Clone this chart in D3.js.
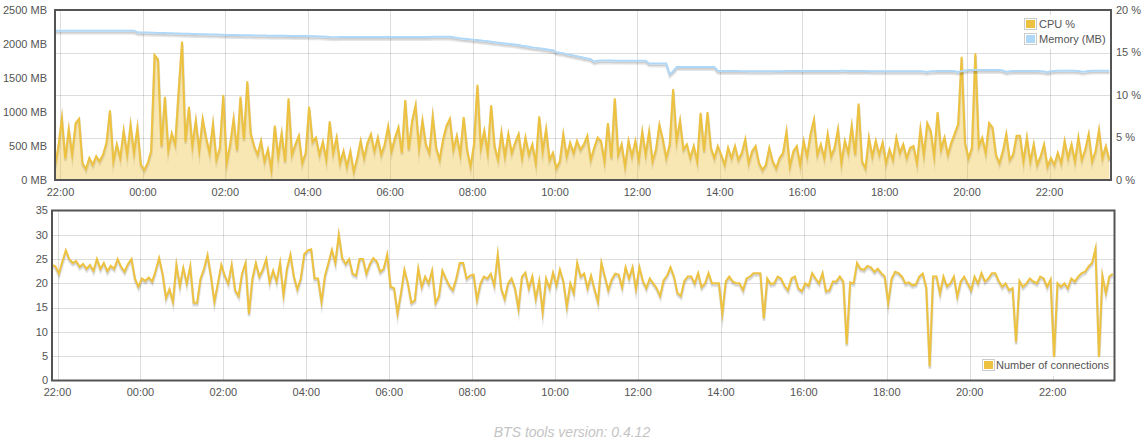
<!DOCTYPE html>
<html><head><meta charset="utf-8">
<script src="https://cdn.jsdelivr.net/npm/d3@7/dist/d3.min.js"></script>
<style>
body{margin:0;background:#fff;}
svg{display:block;font-family:"Liberation Sans",Arial,Helvetica,sans-serif;}
</style>
</head><body>
<svg id="c" width="1146" height="443"></svg>
<script>
// ---- data: samples every 5 minutes from 21:52 (one row = one hour) ----
const START = "2014-01-01T21:52:00Z";
const STEP_MIN = 5;
const SPAN_MIN = 1537.5;

const cpuPct = [
1.6,4.0,7.3,2.5,6.0,3.0,6.7,7.2,2.0,1.3,2.6,1.8,
2.8,2.2,3.0,4.4,8.2,2.2,4.2,2.6,5.8,3.0,6.5,3.2,
6.2,1.8,1.2,2.0,3.4,14.7,14.2,4.0,9.8,3.5,5.5,4.2,
10.5,16.3,4.5,8.6,4.0,7.0,3.5,7.2,5.0,3.2,6.6,2.4,
3.8,10.0,2.0,4.2,7.2,3.5,9.8,4.8,11.6,5.5,4.0,3.0,
4.6,2.2,3.6,1.2,6.4,2.8,5.5,2.2,9.6,3.0,4.2,5.2,
2.0,3.2,8.6,4.5,5.0,3.0,4.5,2.4,6.9,3.2,5.0,2.0,
3.4,1.6,3.4,1.0,2.6,4.6,2.6,4.4,5.4,3.4,5.0,3.0,
4.2,6.3,3.4,5.0,6.2,3.2,9.4,3.6,7.0,8.8,3.8,7.0,
4.2,3.2,7.5,3.8,2.4,4.8,6.4,7.2,3.6,5.2,3.0,7.4,
3.6,1.6,4.2,11.2,3.8,5.8,3.2,8.8,4.0,2.4,5.6,2.8,
5.4,3.2,4.4,5.4,2.6,5.0,3.0,4.2,2.0,7.5,3.4,6.0,
2.4,3.2,1.4,2.2,5.4,2.8,4.4,3.2,4.6,3.6,4.2,5.2,
2.4,3.8,5.0,4.6,2.2,6.7,2.6,9.6,3.0,4.2,1.6,4.6,
2.8,4.6,2.4,5.7,3.0,5.7,2.2,3.6,6.5,4.8,2.6,4.2,
10.7,4.6,7.0,3.6,4.2,2.6,4.0,2.2,7.9,3.4,8.0,3.8,
2.6,4.0,3.0,1.8,3.8,2.6,4.0,2.4,3.2,4.8,2.0,3.4,
4.0,2.0,1.2,1.8,3.8,2.2,1.4,2.6,3.2,5.7,1.6,3.4,
4.0,1.8,4.6,2.8,5.4,7.1,3.0,4.2,2.6,5.4,2.8,3.8,
6.0,2.0,4.6,3.2,6.4,3.0,9.0,2.2,1.4,5.0,2.8,4.6,
3.0,4.4,2.0,3.6,2.4,5.0,3.2,4.2,2.6,3.8,4.0,2.0,
6.0,3.0,6.7,5.8,2.8,8.0,3.6,5.0,3.0,4.4,5.5,6.6,
14.5,4.4,2.6,3.8,14.9,4.0,5.0,3.2,6.7,6.2,3.0,2.0,
3.4,5.4,2.4,3.0,5.2,5.2,2.2,5.0,2.2,4.2,1.8,2.8,
4.2,1.6,2.6,1.8,3.2,2.0,4.6,2.6,4.2,2.2,5.0,2.4,
3.6,5.4,2.2,3.4,5.9,2.6,4.0,2.4
];

const memMB = [
2196,2196,2196,2196,2196,2196,2196,2196,2196,2196,2196,2196,
2196,2196,2196,2196,2196,2196,2196,2196,2196,2196,2196,2196,
2172,2170,2170,2168,2166,2165,2163,2162,2160,2158,2157,2156,
2154,2152,2150,2149,2148,2146,2145,2143,2142,2140,2139,2138,
2136,2135,2134,2133,2132,2131,2130,2129,2128,2127,2126,2125,
2124,2124,2123,2122,2122,2121,2120,2120,2119,2118,2118,2117,
2116,2116,2115,2114,2114,2112,2110,2106,2102,2100,2100,2104,
2104,2104,2104,2104,2104,2104,2104,2104,2104,2104,2104,2104,
2104,2104,2104,2104,2104,2104,2104,2104,2104,2104,2104,2104,
2104,2104,2105,2105,2105,2106,2106,2106,2098,2090,2083,2078,
2074,2068,2062,2058,2052,2046,2040,2033,2026,2020,2014,2008,
2003,1998,1992,1986,1975,1966,1958,1950,1943,1937,1930,1924,
1915,1908,1880,1872,1866,1850,1842,1830,1820,1810,1798,1788,
1778,1740,1752,1756,1756,1756,1756,1755,1755,1755,1754,1754,
1754,1754,1753,1753,1752,1712,1712,1712,1712,1712,1712,1555,
1598,1660,1660,1660,1660,1660,1660,1660,1660,1660,1660,1660,
1660,1606,1604,1603,1603,1602,1602,1602,1601,1601,1600,1600,
1600,1599,1598,1598,1600,1600,1601,1601,1601,1602,1602,1602,
1602,1603,1603,1603,1603,1603,1604,1604,1604,1604,1604,1604,
1604,1605,1605,1604,1604,1603,1603,1602,1602,1601,1600,1600,
1598,1598,1598,1598,1598,1598,1598,1598,1598,1598,1598,1598,
1598,1596,1588,1598,1600,1602,1603,1603,1604,1604,1600,1590,
1600,1610,1616,1618,1618,1618,1618,1618,1618,1618,1618,1616,
1610,1590,1600,1604,1604,1604,1604,1604,1604,1604,1604,1600,
1596,1585,1598,1604,1605,1605,1605,1605,1605,1605,1604,1592,
1596,1602,1608,1608,1608,1608,1608,1608
];

const connections = [
23.8,23.5,22.0,24.5,26.8,25.0,24.2,24.6,23.4,24.0,23.0,23.8,
22.6,25.0,23.0,24.2,22.5,23.6,23.0,25.0,23.4,22.4,24.0,25.0,
21.0,19.3,21.0,20.5,21.2,20.4,22.6,25.2,22.0,17.0,18.8,16.2,
23.8,19.5,23.2,20.0,23.5,16.0,16.0,21.0,23.0,25.8,21.5,16.2,
20.0,23.8,21.6,20.0,23.8,18.6,17.4,22.0,24.2,13.7,21.0,24.2,
21.4,22.8,25.0,20.2,22.6,20.4,24.2,17.6,23.0,25.9,21.4,18.8,
21.0,26.0,26.8,27.0,21.0,21.0,16.2,21.6,24.2,26.9,24.2,30.0,
25.2,24.0,25.0,22.0,21.6,25.0,25.0,22.0,24.0,25.2,24.5,22.4,
23.0,25.9,19.3,19.0,13.8,18.0,22.8,20.0,16.0,16.5,23.0,19.3,
21.4,20.0,22.6,16.0,17.4,22.6,21.0,19.5,18.6,21.0,24.2,24.2,
21.0,21.6,21.8,16.6,20.0,21.4,21.0,22.0,19.6,25.9,19.0,16.8,
20.0,21.0,19.0,14.8,21.4,22.2,19.0,21.4,16.8,20.5,14.1,21.0,
19.0,22.2,19.6,22.8,20.4,15.2,20.0,18.0,24.2,21.4,22.0,19.0,
21.6,18.8,16.2,24.2,21.4,18.6,20.8,22.0,21.8,19.2,23.3,21.0,
23.3,18.8,23.3,20.5,19.0,21.0,20.0,19.0,17.4,20.6,21.6,23.3,
21.4,18.0,17.4,20.5,21.4,21.4,20.0,22.1,19.2,20.0,22.1,20.0,
20.0,20.0,13.8,20.4,21.4,20.4,20.0,20.0,18.6,21.0,21.4,22.1,
22.1,22.1,12.8,21.0,19.9,20.0,21.4,21.0,19.5,18.6,21.0,21.4,
19.0,18.4,20.0,19.5,22.1,21.0,20.0,22.1,18.4,18.6,20.4,20.4,
21.4,20.4,7.5,20.2,20.0,24.2,23.0,22.8,23.6,23.3,22.4,23.0,
22.1,21.4,16.0,21.0,22.4,22.1,21.4,20.0,20.2,19.6,19.8,21.4,
22.0,19.3,2.9,21.4,21.4,17.9,21.4,19.4,20.0,21.4,17.3,20.4,
21.4,20.0,18.6,21.4,20.0,22.1,20.4,21.0,22.1,22.1,20.5,19.3,
20.0,18.6,19.0,7.9,20.5,19.3,20.0,21.0,20.4,20.0,21.4,21.0,
19.3,20.8,4.8,20.0,19.3,20.0,19.0,21.0,20.4,21.4,22.1,22.4,
23.5,24.2,27.1,4.8,21.6,18.0,21.4,22.0
];

const mbTicks = [0, 500, 1000, 1500, 2000, 2500];
const pctTicks = [0, 5, 10, 15, 20];
const connTicks = [0, 5, 10, 15, 20, 25, 30, 35];
const topLegend = ["CPU %", "Memory (MB)"];
const bottomLegend = ["Number of connections"];
const footerText = "BTS tools version: 0.4.12";

// ---- styles ----
const YELLOW = "#edc240", BLUE = "#afd8f8", AXIS = "#545454";
const GRID = "rgba(84,84,84,0.2)";

const svg = d3.select("#c");
const t0 = new Date(START);
const timeOf = i => new Date(+t0 + i * STEP_MIN * 60000);
const domain = [t0, new Date(+t0 + SPAN_MIN * 60000)];
const fmt = d3.utcFormat("%H:%M");

function panel(cfg) {
  const {L, R, T, B, id} = cfg;
  const x = d3.scaleUtc().domain(domain).range([L, R]);
  const g = svg.append("g");
  svg.append("clipPath").attr("id", id).append("rect")
    .attr("x", L).attr("y", T).attr("width", R - L).attr("height", B - T);
  const xt = x.ticks(d3.utcHour.every(2));
  // vertical grid
  g.append("g").selectAll("line").data(xt).join("line")
    .attr("x1", d => Math.round(x(d)) + 0.5).attr("x2", d => Math.round(x(d)) + 0.5)
    .attr("y1", T).attr("y2", B).attr("stroke", GRID).attr("stroke-width", 1);
  // x labels
  g.append("g").selectAll("text").data(xt).join("text")
    .attr("x", d => x(d)).attr("y", cfg.xLabelY).attr("text-anchor", "middle")
    .attr("dy", "0.35em").attr("font-size", 11).attr("fill", AXIS).text(fmt);
  return {x, g};
}

function hgrid(g, scale, ticks, L, R) {
  g.append("g").selectAll("line").data(ticks.filter(v => v !== ticks[0] && v !== ticks[ticks.length-1])).join("line")
    .attr("x1", L).attr("x2", R)
    .attr("y1", d => Math.round(scale(d)) + 0.5).attr("y2", d => Math.round(scale(d)) + 0.5)
    .attr("stroke", GRID).attr("stroke-width", 1);
}

function yLabels(g, scale, ticks, xpos, anchor, suffix) {
  g.append("g").selectAll("text").data(ticks).join("text")
    .attr("x", xpos).attr("y", d => scale(d)).attr("dy", "0.35em")
    .attr("text-anchor", anchor).attr("font-size", 11).attr("fill", AXIS)
    .text(d => d + suffix);
}

function drawSeries(g, clipId, data, x, y, color, fill) {
  const sg = g.append("g").attr("clip-path", `url(#${clipId})`);
  const line = d3.line().x((d, i) => x(timeOf(i))).y(d => y(d));
  const common = s => s.attr("fill", "none").attr("stroke-linejoin", "miter").attr("stroke-miterlimit", 10);
  common(sg.append("path").attr("d", line(data)).attr("stroke", "rgba(0,0,0,0.1)")
    .attr("stroke-width", 3).attr("transform", "translate(0.22,2.46)"));
  common(sg.append("path").attr("d", line(data)).attr("stroke", "rgba(0,0,0,0.1)")
    .attr("stroke-width", 1.5).attr("transform", "translate(0.17,1.74)"));
  if (fill) {
    const area = d3.area().x((d, i) => x(timeOf(i))).y0(y(0)).y1(d => y(d));
    sg.append("path").attr("d", area(data)).attr("fill", fill);
  }
  common(sg.append("path").attr("d", line(data)).attr("stroke", color).attr("stroke-width", 2));
}

function legend(g, items, colors, bx, by, bw, bh, sx, sy0, dy, tx) {
  g.append("rect").attr("x", bx).attr("y", by).attr("width", bw).attr("height", bh)
    .attr("fill", "#fff").attr("opacity", 0.85);
  items.forEach((name, k) => {
    const sy = sy0 + k * dy;
    g.append("rect").attr("x", sx + 0.5).attr("y", sy + 0.5).attr("width", 12).attr("height", 11)
      .attr("fill", "#fff").attr("stroke", "#ccc");
    g.append("rect").attr("x", sx + 2).attr("y", sy + 2).attr("width", 9).attr("height", 8)
      .attr("fill", colors[k]);
    g.append("text").attr("x", tx).attr("y", sy + 10).attr("font-size", 11)
      .attr("fill", AXIS).text(name);
  });
}

// ---- top panel ----
{
  const L = 55, R = 1111, T = 10, B = 180;
  const {x, g} = panel({L, R, T, B, id: "clipTop", xLabelY: 192});
  const yMem = d3.scaleLinear().domain([0, 2500]).range([B, T]);
  const yPct = d3.scaleLinear().domain([0, 20]).range([B, T]);
  hgrid(g, yPct, pctTicks, L, R);
  yLabels(g, yMem, mbTicks, 47, "end", " MB");
  yLabels(g, yPct, pctTicks, 1116, "start", " %");
  drawSeries(g, "clipTop", cpuPct, x, yPct, YELLOW, "rgba(237,194,64,0.4)");
  drawSeries(g, "clipTop", memMB, x, yMem, BLUE, null);
  g.append("rect").attr("x", L).attr("y", T).attr("width", R - L).attr("height", B - T)
    .attr("fill", "none").attr("stroke", AXIS).attr("stroke-width", 2);
  legend(g, topLegend, [YELLOW, BLUE], 1020, 15, 90, 34, 1024, 18, 15, 1039);
}

// ---- bottom panel ----
{
  const L = 52, R = 1114.5, T = 210.5, B = 380.5;
  const {x, g} = panel({L, R, T, B, id: "clipBot", xLabelY: 392.5});
  const yC = d3.scaleLinear().domain([0, 35]).range([B, T]);
  hgrid(g, yC, connTicks, L, R);
  yLabels(g, yC, connTicks, 48, "end", "");
  drawSeries(g, "clipBot", connections, x, yC, YELLOW, null);
  g.append("rect").attr("x", L).attr("y", T).attr("width", R - L).attr("height", B - T)
    .attr("fill", "none").attr("stroke", AXIS).attr("stroke-width", 2);
  legend(g, bottomLegend, [YELLOW], 979, 357, 132, 19, 982, 359, 15, 996);
}

// ---- footer ----
svg.append("text").attr("x", 572).attr("y", 437).attr("text-anchor", "middle")
  .attr("font-size", 14).attr("font-style", "italic").attr("fill", "#c4c4c4").text(footerText);
</script>
</body></html>
